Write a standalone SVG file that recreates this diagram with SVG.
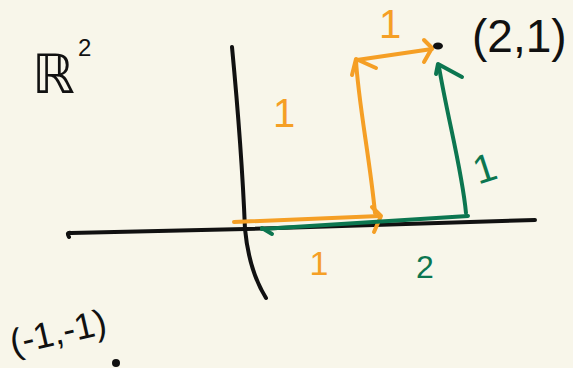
<svg xmlns="http://www.w3.org/2000/svg" width="573" height="368" viewBox="0 0 573 368">
<style>
.ax{fill:none;stroke:#111;stroke-width:4;stroke-linecap:round;stroke-linejoin:round}
.or{fill:none;stroke:#f59f25;stroke-width:4;stroke-linecap:round;stroke-linejoin:round}
.gr{fill:none;stroke:#0c7650;stroke-width:4;stroke-linecap:round;stroke-linejoin:round}
.t{font-family:"Liberation Sans","DejaVu Sans",sans-serif}
.tk{fill:#111}
.to{fill:#f59f25}
.tg{fill:#0c7650}
</style>
<rect width="573" height="368" fill="#f8f6ea"/>
<g id="axes">
<path class="ax" d="M69,237 Q66,232 71,233 L245,229 L535,220"/>
<path class="ax" d="M232,47 C238,110 243,180 245,229 C248,260 256,282 266,298"/>
</g>
<g id="connectors">
<path class="or" d="M234,222 L380,216"/>
<path class="or" d="M372,207 L381,216 L374,232"/>
<path class="or" d="M375,213 C370,160 358,100 356,60"/>
<path class="or" d="M352,75 L356,59 L376,68"/>
<path class="or" d="M357,60 L432,49"/>
<path class="or" d="M424,40 L432,48 L424,62"/>
<path class="gr" d="M468,216 L262,229"/>
<path class="gr" d="M262,228 L272,234"/>
<path class="gr" d="M466,213 C462,170 448,120 439,67"/>
<path class="gr" d="M436,74 L438,64 L462,77"/>
</g>
<g id="point-2-1">
<ellipse cx="438" cy="46" rx="5" ry="3.5" fill="#111"/>
<text class="t tk" x="472" y="52" font-size="46">(2,1)</text>
</g>
<g id="point-m1-m1">
<circle cx="116" cy="363" r="4" fill="#111"/>
<text class="t tk" x="13" y="355" font-size="36" transform="rotate(-13 13 355)">(-1,-1)</text>
</g>
<g id="space-label">
<text class="t tk" x="32" y="93" font-size="54">ℝ</text>
<text class="t tk" x="78" y="56" font-size="24">2</text>
</g>
<g id="labels">
<text class="t to" x="390" y="38" font-size="40" text-anchor="middle">1</text>
<text class="t to" x="284" y="127" font-size="40" text-anchor="middle">1</text>
<text class="t to" x="319" y="275" font-size="34" text-anchor="middle">1</text>
<text class="t tg" x="425" y="278" font-size="32" text-anchor="middle">2</text>
<text class="t tg" x="484" y="182" font-size="40" text-anchor="middle" transform="rotate(-18 484 166)">1</text>
</g>
</svg>
